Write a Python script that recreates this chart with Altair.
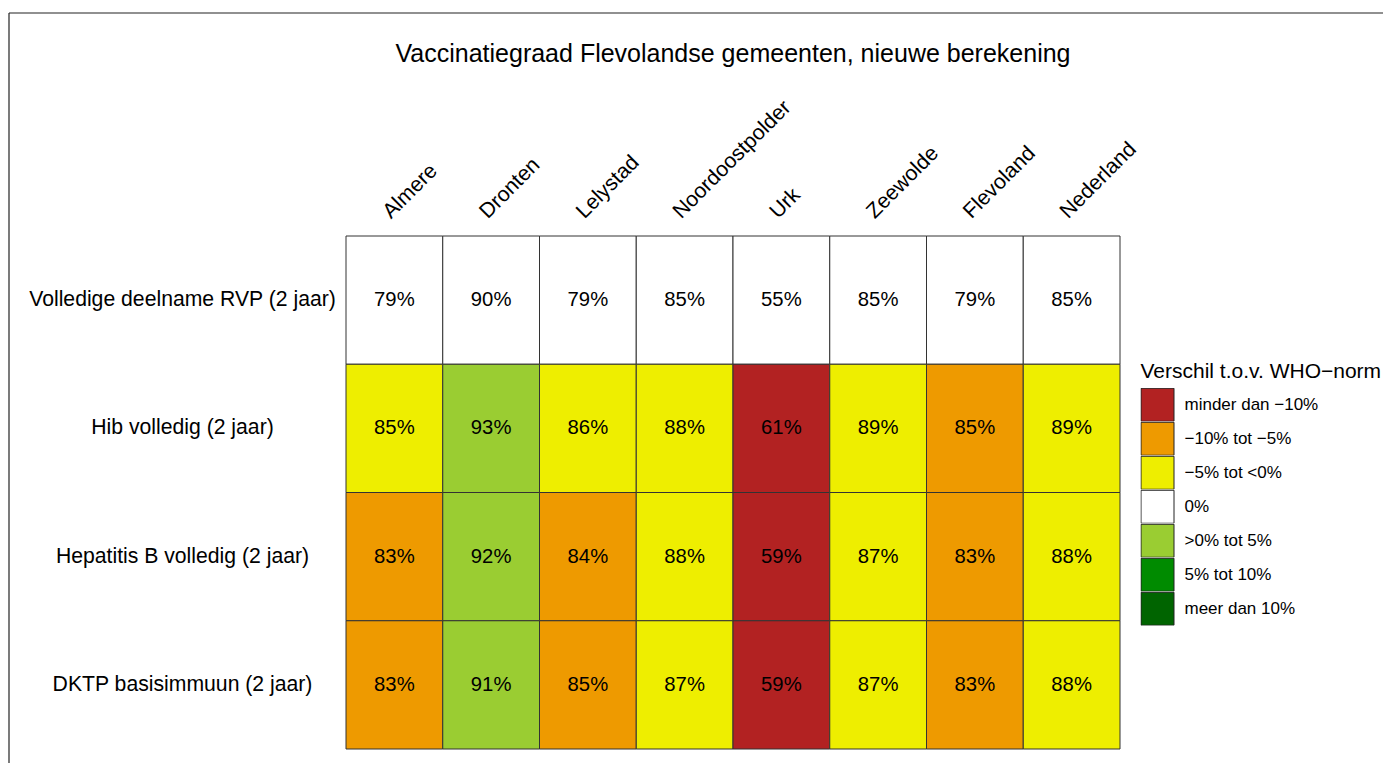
import altair as alt
import pandas as pd

TITLE = "Vaccinatiegraad Flevolandse gemeenten, nieuwe berekening"
LEGEND_TITLE = "Verschil t.o.v. WHO\u2212norm"

rows = [
    "Volledige deelname RVP (2 jaar)",
    "Hib volledig (2 jaar)",
    "Hepatitis B volledig (2 jaar)",
    "DKTP basisimmuun (2 jaar)",
]
cols = ["Almere", "Dronten", "Lelystad", "Noordoostpolder", "Urk", "Zeewolde", "Flevoland", "Nederland"]

vals_rvp = [79, 90, 79, 85, 55, 85, 79, 85]
vals_hib = [85, 93, 86, 88, 61, 89, 85, 89]
vals_hepb = [83, 92, 84, 88, 59, 87, 83, 88]
vals_dktp = [83, 91, 85, 87, 59, 87, 83, 88]

cat_labels = [
    "minder dan \u221210%",
    "\u221210% tot \u22125%",
    "\u22125% tot <0%",
    "0%",
    ">0% tot 5%",
    "5% tot 10%",
    "meer dan 10%",
]
cat_colors = ["#B22222", "#EE9A00", "#EEEE00", "#FFFFFF", "#9ACD32", "#008B00", "#006400"]

# category index per cell (into cat_labels)
cat_rvp = [3, 3, 3, 3, 3, 3, 3, 3]
cat_hib = [2, 4, 2, 2, 0, 2, 1, 2]
cat_hepb = [1, 4, 1, 2, 0, 2, 1, 2]
cat_dktp = [1, 4, 1, 2, 0, 2, 1, 2]

records = []
for r, vals, cats in zip(rows, [vals_rvp, vals_hib, vals_hepb, vals_dktp],
                         [cat_rvp, cat_hib, cat_hepb, cat_dktp]):
    for c, v, k in zip(cols, vals, cats):
        records.append({"rij": r, "kolom": c, "waarde": v,
                        "label": f"{v}%", "cat": cat_labels[k]})
df = pd.DataFrame(records)

FONT = "Liberation Sans"

x_enc = alt.X("kolom:N", sort=cols, title=None,
              scale=alt.Scale(paddingInner=0, paddingOuter=0),
              axis=alt.Axis(orient="top", labelAngle=-45, labelAlign="left",
                            labelBaseline="alphabetic", labelPadding=17,
                            labelOffset=-3.5, ticks=False, tickSize=0,
                            domain=False, grid=False, labelFontSize=21.2,
                            labelFont=FONT, labelColor="black", labelLimit=500))
y_enc = alt.Y("rij:N", sort=rows, title=None,
              scale=alt.Scale(paddingInner=0, paddingOuter=0),
              axis=alt.Axis(orient="left", labelAlign="center",
                            labelBaseline="middle", labelPadding=164,
                            ticks=False, tickSize=0, domain=False, grid=False,
                            labelFontSize=21.2, labelFont=FONT,
                            labelColor="black", labelLimit=500))

rects = alt.Chart(df).mark_rect(stroke="#333333", strokeWidth=1).encode(
    x=x_enc,
    y=y_enc,
    fill=alt.Fill("cat:N",
                  scale=alt.Scale(domain=cat_labels, range=cat_colors),
                  legend=alt.Legend(title=LEGEND_TITLE, orient="none",
                                    legendX=794.5, legendY=125,
                                    symbolType="square", symbolSize=1089,
                                    symbolStrokeColor="#222222",
                                    symbolStrokeWidth=1, symbolOpacity=1,
                                    clipHeight=33.5,
                                    rowPadding=0, padding=0,
                                    labelOffset=10, labelFontSize=17,
                                    labelFont=FONT, labelColor="black",
                                    titleFontSize=21, titleFont=FONT,
                                    titleFontWeight="normal", titleColor="black",
                                    titlePadding=6, titleLimit=600,
                                    labelLimit=400)),
)

texts = alt.Chart(df).mark_text(fontSize=20.3, font=FONT, color="black").encode(
    x=alt.X("kolom:N", sort=cols),
    y=alt.Y("rij:N", sort=rows),
    text="label:N",
)

one = pd.DataFrame({"t": [TITLE]})
title_mark = alt.Chart(one).mark_text(fontSize=25, font=FONT, color="black",
                                      align="center", baseline="alphabetic").encode(
    x=alt.value(387), y=alt.value(-174), text="t:N")

frame_v = alt.Chart(one).mark_rule(color="#222222", strokeWidth=1.2).encode(
    x=alt.value(-337), y=alt.value(-223), y2=alt.value(527))
frame_h = alt.Chart(one).mark_rule(color="#222222", strokeWidth=1.2).encode(
    x=alt.value(-337), x2=alt.value(1037), y=alt.value(-223))

chart = alt.layer(rects, texts, title_mark, frame_v, frame_h).properties(
    width=774, height=513,
    padding={"left": 0, "top": 4, "right": 0, "bottom": 0},
).configure_view(stroke="transparent")

chart.save("out.html", embed_options={"renderer": "svg", "actions": False})
